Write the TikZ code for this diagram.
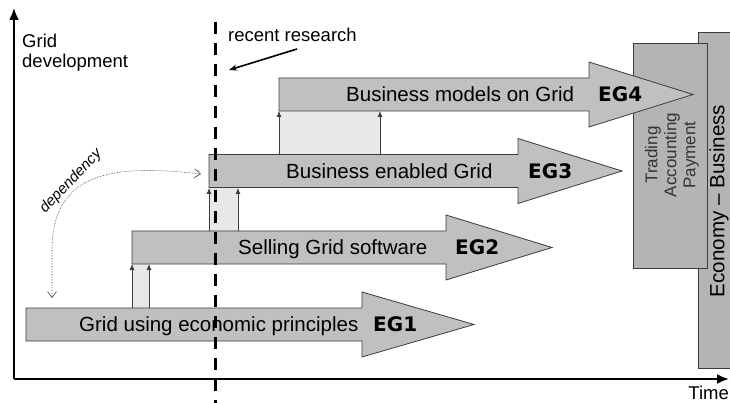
\documentclass[tikz,border=0pt]{standalone}
\usepackage{fontspec}
\setmainfont{Liberation Sans}
\newfontfamily\egfont{DejaVu Sans}
\usetikzlibrary{arrows.meta}

\definecolor{arrowgray}{RGB}{192,192,192}
\definecolor{linkgray}{RGB}{232,232,232}
\definecolor{boxgray}{RGB}{180,180,180}
\definecolor{edgegray}{RGB}{60,60,60}

% block arrow: left end, back of head, tip, centre line
\newcommand{\blockarrow}[4]{%
  \draw[block] (#1,#4-16.5) -- (#2,#4-16.5) -- (#2,#4-32.5) -- (#3,#4)
    -- (#2,#4+32.5) -- (#2,#4+16.5) -- (#1,#4+16.5) -- cycle;}

\begin{document}
\begin{tikzpicture}
    [x=1pt,y=-1pt,
    axis/.style={-{Latex[length=12pt,width=10pt]},black,line width=2.2pt},
    block/.style={fill=arrowgray,draw=edgegray,line width=0.8pt},
    link/.style={fill=linkgray},
    uparrow/.style={-{Latex[length=6pt,width=5pt]},edgegray,line width=0.8pt},
    sidebox/.style={fill=boxgray,draw=edgegray,line width=0.8pt},
    bartext/.style={inner sep=0pt,font=\fontsize{20.5}{24}\selectfont},
    eglabel/.style={inner sep=0pt,font=\egfont\bfseries\fontsize{20}{24}\selectfont},
    axislabel/.style={inner sep=0pt,font=\fontsize{18.5}{20}\selectfont},
    dependency/.style={densely dotted,black!75,line width=0.6pt,
      {Straight Barb[length=6pt,width=9pt]}-{Straight Barb[length=6pt,width=9pt]}}]

\useasboundingbox (0,0) rectangle (730,403);

%economy boxes on the right
\draw[sidebox] (698,32) rectangle (732,368);
\draw[sidebox] (633,43) rectangle (707,268);
\node[rotate=90,inner sep=0pt,font=\fontsize{20.6}{24}\selectfont] (economy) at (719,201) {Economy – Business};
\node[rotate=90,inner sep=0pt,align=center,text=black!80,font=\fontsize{17}{19}\selectfont] (trading) at (672,155) {Trading\\Accounting\\Payment};

%links between the stages
\fill[link] (132,264) rectangle (149,308);
\fill[link] (209,188) rectangle (238,231);
\fill[link] (279,111) rectangle (380,154);
\coordinate (l1a) at (132,308); \coordinate (l1b) at (132,264);
\coordinate (l2a) at (149,308); \coordinate (l2b) at (149,264);
\coordinate (l3a) at (209,231); \coordinate (l3b) at (209,188);
\coordinate (l4a) at (238,231); \coordinate (l4b) at (238,188);
\coordinate (l5a) at (279,154); \coordinate (l5b) at (279,111);
\coordinate (l6a) at (380,154); \coordinate (l6b) at (380,111);
\draw[uparrow] (l1a) -- (l1b);
\draw[uparrow] (l2a) -- (l2b);
\draw[uparrow] (l3a) -- (l3b);
\draw[uparrow] (l4a) -- (l4b);
\draw[uparrow] (l5a) -- (l5b);
\draw[uparrow] (l6a) -- (l6b);

%draw the four stages
\blockarrow{26}{362}{474}{324.5}
\blockarrow{132}{446}{552}{247.5}
\blockarrow{209}{518}{622}{171}
\blockarrow{279}{589}{693}{94.5}

\node[bartext,anchor=base west] (eg1text) at (79,331.8) {Grid using economic principles};
\node[eglabel,anchor=base west] (eg1) at (373,331.8) {EG1};
\node[bartext,anchor=base west] (eg2text) at (238,254.8) {Selling Grid software};
\node[eglabel,anchor=base west] (eg2) at (455,254.8) {EG2};
\node[bartext,anchor=base west] (eg3text) at (286,178.3) {Business enabled Grid};
\node[eglabel,anchor=base west] (eg3) at (528,178.3) {EG3};
\node[bartext,anchor=base west] (eg4text) at (346,101.8) {Business models on Grid};
\node[eglabel,anchor=base west] (eg4) at (598,101.8) {EG4};

%dependency
\coordinate (depbottom) at (52,298);
\coordinate (deptop) at (201,174);
\draw[dependency] (depbottom) -- (52,250) .. controls (52,168) and (120,165) .. (deptop);
\node[rotate=46,inner sep=0pt,font=\itshape\fontsize{15}{17}\selectfont] (dep) at (71,181) {dependency};

%draw axes
\coordinate (origin) at (14,379);
\coordinate (ytip) at (14,8);
\coordinate (xtip) at (729,379);
\draw[axis] (origin) -- (ytip);
\draw[axis] (origin) -- (xtip);
\node[axislabel,anchor=north west,align=left] (ylabel) at (22,34) {Grid\\development};
\node[axislabel,anchor=base east] (xlabel) at (729,399) {Time};

%recent research
\coordinate (rtop) at (215,22);
\coordinate (rbottom) at (215,403);
\draw[line width=3pt,dash pattern=on 12pt off 9pt] (rtop) -- (rbottom);
\node[axislabel,anchor=base west] (recent) at (228,42) {recent research};
\coordinate (rfrom) at (297,49);
\coordinate (rto) at (229,70);
\draw[-{Stealth[length=8pt,width=6pt]},line width=1.6pt] (rfrom) -- (rto);

\end{tikzpicture}
\end{document}
